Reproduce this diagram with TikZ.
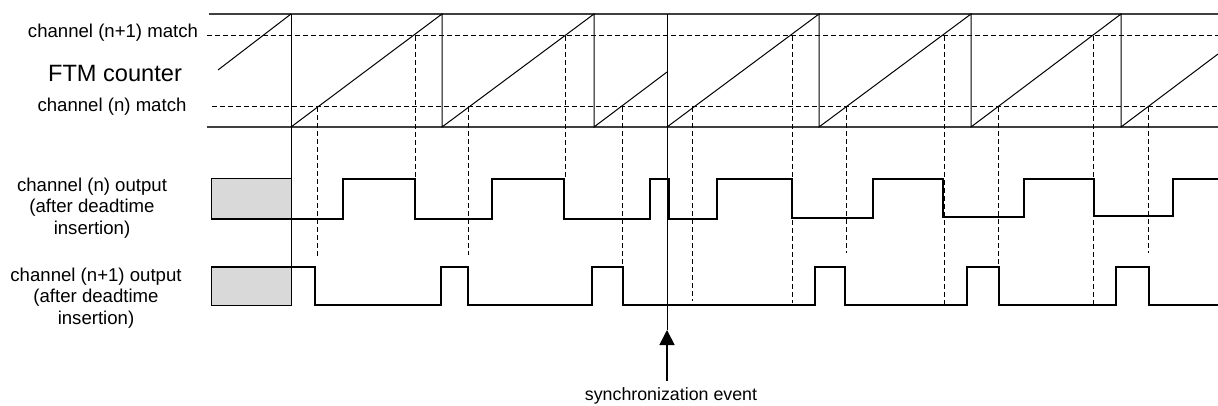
\documentclass[tikz,border=0pt]{standalone}
\usepackage{fontspec}
\setmainfont{Liberation Sans}
\usetikzlibrary{arrows.meta}
\tikzset{
  rail/.style={line width=0.6pt,color=black!75},
  ramp/.style={line width=0.5pt},
  level/.style={line width=0.5pt,dash pattern=on 2.5pt off 1.5pt},
  wave/.style={line width=1.1pt,line join=miter},
  sigtext/.style={font=\fontsize{9.3}{10.9}\selectfont,align=center},
}
\begin{document}
\begin{tikzpicture}[x=0.5pt,y=-0.5pt]
  \useasboundingbox (0,0) rectangle (1218,406);
  % labels on the left
  \node[sigtext] (matchnb) at (113,33) {channel (n+1) match};
  \node[sigtext,font=\fontsize{11.8}{14}\selectfont] (ftm) at (115,73) {FTM counter};
  \node[sigtext] (matchn) at (112,107) {channel (n) match};
  \node[sigtext] (outn) at (92,208) {channel (n) output\\(after deadtime\\insertion)};
  \node[sigtext] (outnb) at (96,298) {channel (n+1) output\\(after deadtime\\insertion)};
  % counter rails and match levels
  \draw[rail] (209,14) -- (1218,14);
  \draw[rail] (207,127) -- (1218,127);
  \draw[level] (207,36) -- (1218,36);
  \draw[level] (212,107) -- (1218,107);
  % counter ramps and reloads
  \draw[ramp] (218,70) -- (291,14);
  \draw[ramp] (291,127) -- (442,14) -- (442,127) -- (594,14) -- (594,127) -- (667,72);
  \draw[ramp] (667,127) -- (819,14) -- (819,127) -- (971,14) -- (971,127) -- (1121,14) -- (1121,127) -- (1218,54);
  \draw[ramp] (291,14) -- (291,305);
  % match points down to the outputs
  \draw[level] (317,107) -- (317,257) (468,107) -- (468,255) (622,107) -- (622,266)
    (692,107) -- (692,301) (846,107) -- (846,253) (998,107) -- (998,266) (1148,107) -- (1148,253);
  \draw[level] (415,36) -- (415,179) (565,36) -- (565,179) (792,36) -- (792,303)
    (944,36) -- (944,304) (1093,36) -- (1093,304);
  % outputs
  \draw[ramp,fill=black!15] (211,179) rectangle (291,219);
  \draw[ramp,fill=black!15] (211,267) rectangle (291,305);
  \draw[wave] (211,219) -- (343,219) -- (343,179) -- (415,179) -- (415,219) -- (492,219) -- (492,179)
    -- (564,179) -- (564,219) -- (650,219) -- (650,179) -- (669,179) -- (669,219) -- (717,219)
    -- (717,179) -- (792,179) -- (792,218) -- (873,218) -- (873,179) -- (943,179) -- (943,217)
    -- (1024,217) -- (1024,179) -- (1094,179) -- (1094,216) -- (1173,216) -- (1173,179) -- (1218,179);
  \draw[wave] (211,267) -- (315,267) -- (315,305) -- (441,305) -- (441,267) -- (468,267) -- (468,305)
    -- (592,305) -- (592,267) -- (623,267) -- (623,305) -- (815,305) -- (815,267) -- (845,267)
    -- (845,305) -- (967,305) -- (967,267) -- (999,267) -- (999,305) -- (1116,305) -- (1116,267)
    -- (1149,267) -- (1149,305) -- (1218,305);
  % synchronization
  \coordinate (synctop) at (667,14);
  \coordinate (syncend) at (667,330);
  \node[sigtext,font=\fontsize{8.9}{10.5}\selectfont] (syncevent) at (671,396) {synchronization event};
  \draw[ramp] (synctop) -- (syncend);
  \draw[line width=0.8pt,arrows=-{Triangle[width=7.5pt,length=7.5pt]}] (syncevent.north -| syncend) -- (syncend);
\end{tikzpicture}
\end{document}
